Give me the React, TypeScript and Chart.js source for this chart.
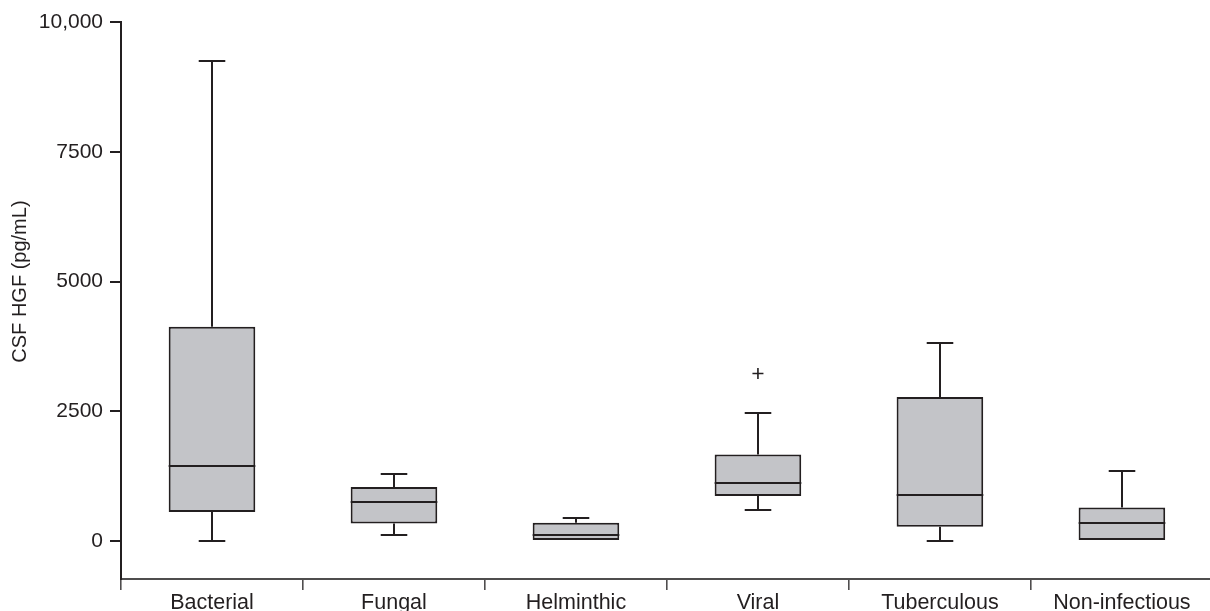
import React, { useEffect, useRef } from 'react';
import { Chart, registerables } from 'chart.js';

Chart.register(...registerables);

const categories = ['Bacterial', 'Fungal', 'Helminthic', 'Viral', 'Tuberculous', 'Non-infectious'];
const whiskerLow = [0, 116, 0, 597, 0, 0];
const q1 = [559, 341, 0, 867, 276, 0];
const median = [1451, 746, 110, 1112, 880, 347];
const q3 = [4129, 1040, 353, 1670, 2775, 649];
const whiskerHigh = [9254, 1297, 437, 2460, 3815, 1349];
const outliers = [null, null, null, 3230, null, null];

const yTickValues = [0, 2500, 5000, 7500, 10000];
const yTickLabels = ['0', '2500', '5000', '7500', '10,000'];
const yTitle = 'CSF HGF (pg/mL)';

const FONT = '"Liberation Sans", Arial, Helvetica, sans-serif';
const DARK = '#231f20';
const AXIS_GREY = '#4f4d4e';
const BOX_FILL = '#c3c4c8';
const BAR_PCT = 0.476;
const CAP_PCT = 0.146;

export default function App() {
  const ref = useRef<HTMLCanvasElement>(null);

  useEffect(() => {
    if (!ref.current) return;

    const whiskerPlugin = {
      id: 'whiskers',
      afterDatasetsDraw(chart: any) {
        const { ctx, scales } = chart;
        const x = scales.x;
        const y = scales.y;
        const catW = x.getPixelForValue(1) - x.getPixelForValue(0);
        const half = (catW * BAR_PCT) / 2;
        const capHalf = (catW * CAP_PCT) / 2;
        ctx.save();
        ctx.strokeStyle = DARK;
        ctx.lineWidth = 2;
        ctx.lineCap = 'butt';
        const seg = (x1: number, y1: number, x2: number, y2: number) => {
          ctx.beginPath();
          ctx.moveTo(x1, y1);
          ctx.lineTo(x2, y2);
          ctx.stroke();
        };
        categories.forEach((_, i) => {
          const cx = Math.round(x.getPixelForValue(i));
          const my = Math.round(y.getPixelForValue(median[i]));
          seg(cx - half, my, cx + half, my);
          const yq3 = y.getPixelForValue(q3[i]);
          const yHi = Math.round(y.getPixelForValue(whiskerHigh[i]));
          if (whiskerHigh[i] > q3[i]) {
            seg(cx, yq3, cx, yHi);
            seg(cx - capHalf, yHi, cx + capHalf, yHi);
          }
          const yq1 = y.getPixelForValue(q1[i]);
          const yLo = Math.round(y.getPixelForValue(whiskerLow[i]));
          if (whiskerLow[i] < q1[i]) {
            seg(cx, yq1, cx, yLo);
            seg(cx - capHalf, yLo, cx + capHalf, yLo);
          }
        });
        ctx.restore();
      },
      afterDraw(chart: any) {
        const { ctx, scales } = chart;
        const y = scales.y;
        const mid = (y.getPixelForValue(yTickValues[0]) + y.getPixelForValue(yTickValues[yTickValues.length - 1])) / 2;
        ctx.save();
        ctx.translate(20, mid);
        ctx.rotate(-Math.PI / 2);
        ctx.fillStyle = DARK;
        ctx.font = `20px ${FONT}`;
        ctx.textAlign = 'center';
        ctx.textBaseline = 'middle';
        ctx.fillText(yTitle, 0, 0);
        ctx.restore();
      },
    };

    const chart = new Chart(ref.current, {
      type: 'bar',
      data: {
        labels: categories,
        datasets: [
          {
            type: 'bar',
            data: categories.map((_, i) => [q1[i], q3[i]]) as any,
            backgroundColor: BOX_FILL,
            borderColor: DARK,
            borderWidth: 2,
            borderSkipped: false,
            barPercentage: BAR_PCT,
            categoryPercentage: 1,
            order: 2,
          },
          {
            type: 'line',
            data: outliers as any,
            showLine: false,
            pointStyle: 'cross',
            pointRadius: 5.5,
            pointBorderWidth: 1.6,
            borderColor: DARK,
            backgroundColor: DARK,
            order: 1,
          },
        ],
      },
      plugins: [whiskerPlugin],
      options: {
        responsive: false,
        animation: false,
        events: [],
        layout: { padding: { top: 22, right: 3, left: 0, bottom: 0 } },
        plugins: {
          legend: { display: false },
          tooltip: { enabled: false },
          title: { display: false },
        },
        scales: {
          x: {
            type: 'category',
            offset: true,
            grid: {
              offset: true,
              drawOnChartArea: false,
              drawTicks: true,
              tickLength: 11,
              color: AXIS_GREY,
              lineWidth: 1.6,
            },
            border: { display: true, color: AXIS_GREY, width: 2 },
            ticks: {
              color: DARK,
              font: { family: FONT, size: 21.5 },
              padding: 0,
              maxRotation: 0,
              autoSkip: false,
            },
            afterFit(scale: any) {
              scale.height = 32;
            },
          },
          y: {
            type: 'linear',
            min: -730,
            max: 10000,
            afterBuildTicks(scale: any) {
              scale.ticks = yTickValues.map((v) => ({ value: v }));
            },
            grid: {
              drawOnChartArea: false,
              drawTicks: true,
              tickLength: 11,
              color: DARK,
              lineWidth: 2,
            },
            border: { display: true, color: DARK, width: 2 },
            ticks: {
              color: DARK,
              font: { family: FONT, size: 21 },
              padding: 7,
              callback: (v: any) => {
                const idx = yTickValues.indexOf(Number(v));
                return idx >= 0 ? yTickLabels[idx] : '';
              },
            },
            afterFit(scale: any) {
              scale.width = 121;
            },
          },
        },
      } as any,
    });

    return () => chart.destroy();
  }, []);

  return (
    <div style={{ position: 'fixed', left: 0, top: 0, width: 1210, height: 611, overflow: 'hidden', background: '#fff' }}>
      <canvas ref={ref} width={1220} height={611} style={{ width: 1220, height: 611, display: 'block' }} />
    </div>
  );
}
